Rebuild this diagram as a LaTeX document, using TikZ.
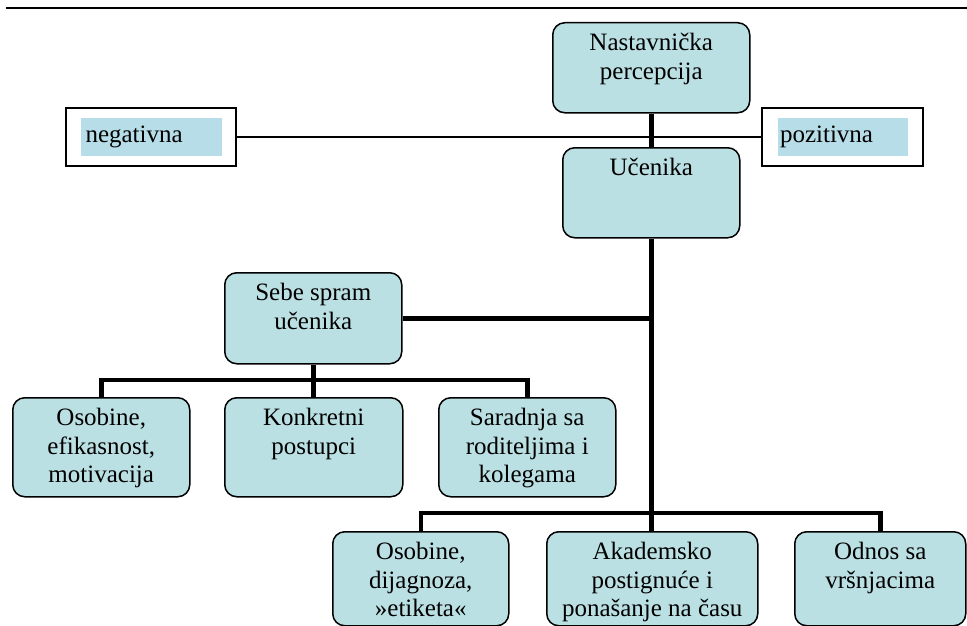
\documentclass[tikz,border=0pt]{standalone}
\usepackage{fontspec}
\setmainfont{Liberation Serif}
\usepackage{tikz}
\definecolor{boxfill}{RGB}{187,224,227}
\definecolor{labfill}{RGB}{183,222,232}
\newcommand{\orgtext}[3]{\parbox[b][#2pt][t]{#1pt}{\centering\rule{0pt}{28pt}#3}}

\begin{document}
\begin{tikzpicture}[x=1pt,y=-1pt,
  every node/.style={font=\fontsize{25}{28.5}\selectfont, inner sep=0pt},
  orgbox/.style={draw, fill=boxfill, rounded corners=12pt, line width=1.5pt, anchor=north west},
  link/.style={line width=4.5pt},
  sidebox/.style={draw, fill=white, line width=1.5pt, minimum width=170pt, minimum height=58pt},
  sidetext/.style={fill=labfill, minimum height=38pt, align=left}]
  \useasboundingbox (0,0) rectangle (967,626);
  \draw[line width=2.5pt] (6,8) -- (967,8);

  \node[orgbox] (nast) at (552,22) {\orgtext{197}{90}{Nastavnička\\percepcija}};
  \node[orgbox] (ucen) at (562,147) {\orgtext{177}{90}{Učenika}};
  \node[orgbox] (sebe) at (224,272) {\orgtext{177}{91}{Sebe spram\\učenika}};
  \node[orgbox] (osobA) at (12,397) {\orgtext{177}{99}{Osobine,\\efikasnost,\\motivacija}};
  \node[orgbox] (konk) at (224,397) {\orgtext{178}{99}{Konkretni\\postupci}};
  \node[orgbox] (sarad) at (438,397) {\orgtext{177}{99}{Saradnja sa\\roditeljima i\\kolegama}};
  \node[orgbox] (osobB) at (332,531) {\orgtext{176}{94}{Osobine,\\dijagnoza,\\»etiketa«}};
  \node[orgbox] (akad) at (546,531) {\orgtext{211}{94}{Akademsko\\postignuće i\\ponašanje na času}};
  \node[orgbox] (odnos) at (794,531) {\orgtext{171}{94}{Odnos sa\\vršnjacima}};

  % negativna / pozitivna
  \node[sidebox] (neg) at (151,137) {};
  \node[sidetext, text width=131pt, inner xsep=5pt] (negt) at (neg) {negativna};
  \node[sidebox, minimum width=161pt] (poz) at (842.5,137) {};
  \node[sidetext, text width=126pt, inner xsep=2pt] (pozt) at (843,137) {pozitivna};
  \draw[line width=1.2pt] (neg) -- (poz);

  \draw[link] (nast) -- (ucen);
  \draw[link] (ucen.south) -- (ucen.south |- akad.north);
  \draw[link] (sebe.east) -- (sebe.east -| ucen.south);
  \coordinate (busA) at (313,380);
  \draw[link] (osobA.north) |- (busA) -| (sarad.north);
  \draw[link] (sebe.south) -- (sebe.south |- konk.north);
  \coordinate (busB) at (651,513);
  \draw[link] (osobB.north) |- (busB) -| (odnos.north);
\end{tikzpicture}
\end{document}
